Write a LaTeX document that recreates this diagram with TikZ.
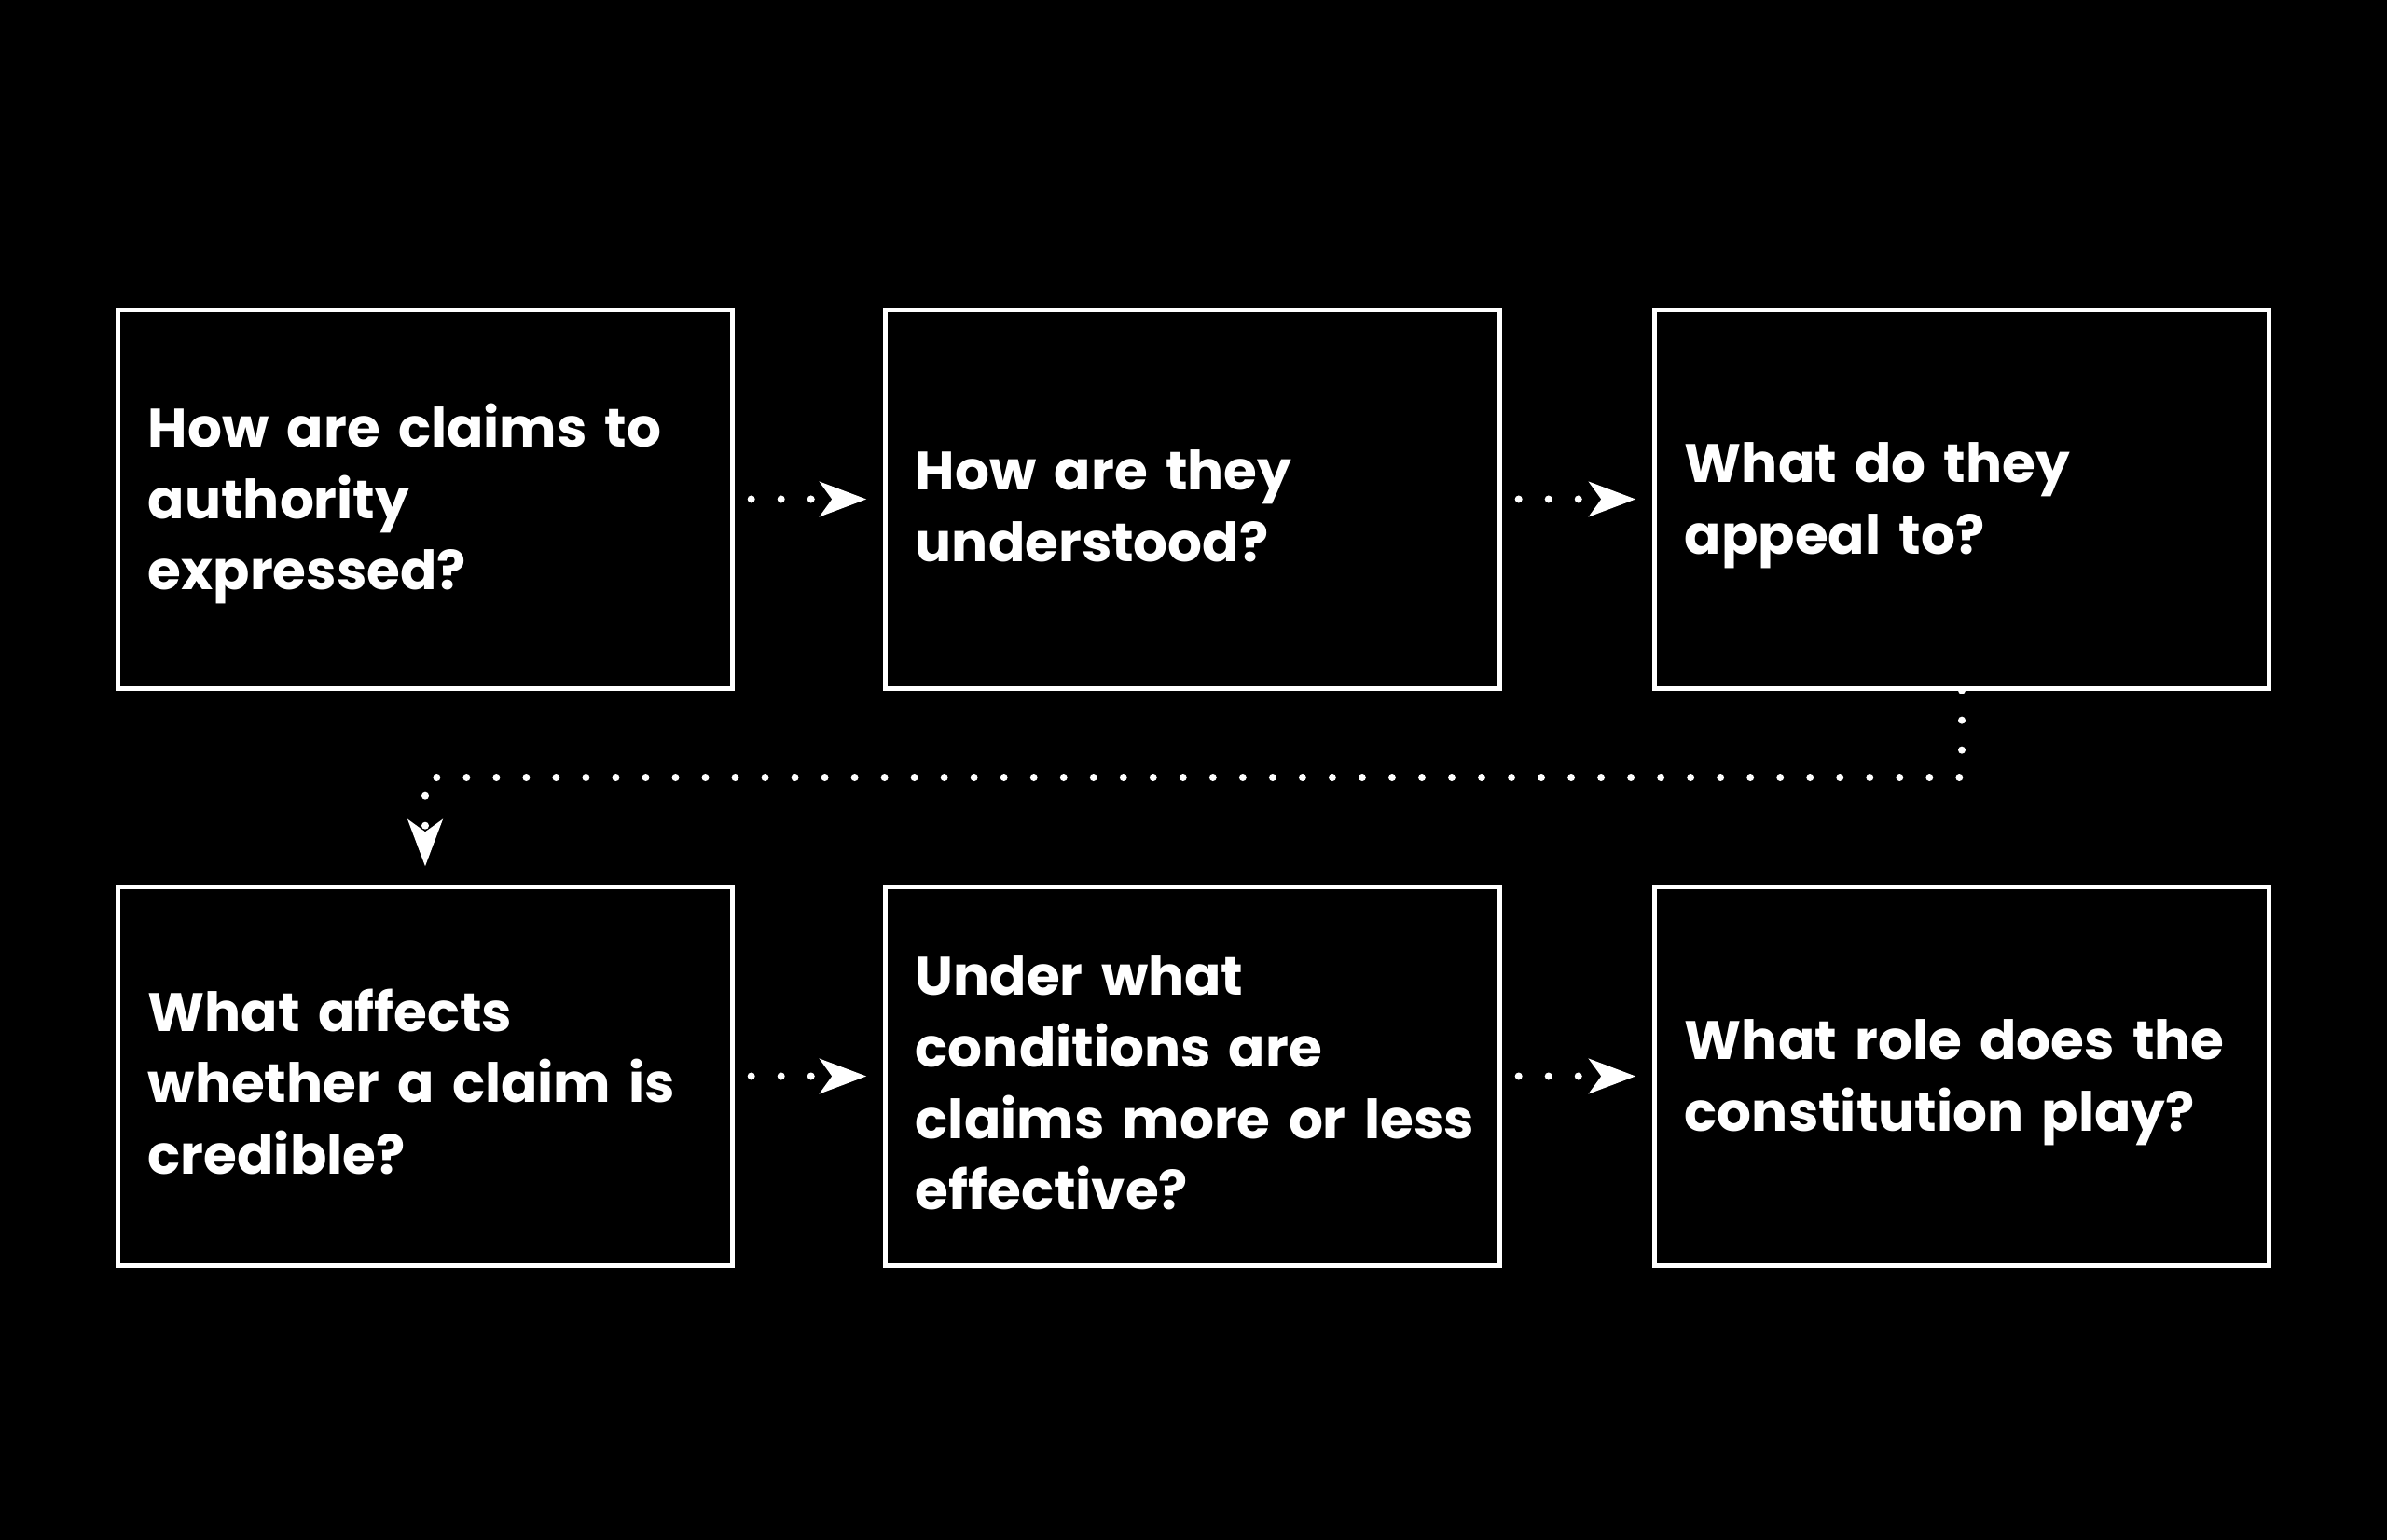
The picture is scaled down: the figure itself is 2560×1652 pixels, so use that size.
\documentclass[tikz,border=0pt]{standalone}
\usepackage{fontspec}
\setmainfont{Poppins}
\usetikzlibrary{arrows.meta}
\newcommand{\topstrut}{\rule{0pt}{\dimexpr\fontcharht\font`\l+4.55pt\relax}}
\tikzset{
  qbox/.style={draw=white, line width=0.05cm, fill=black, minimum width=6.58cm, minimum height=4.05cm,
    text width=5.94cm, align=left, inner sep=0pt, text=white,
    font=\bfseries\fontsize{16.5pt}{21.8pt}\selectfont,
    execute at begin node={\topstrut}},
  dotline/.style={white, line width=0.08cm, line cap=round, dash pattern=on 0pt off 0.32cm},
  tipped/.style={-{Stealth[length=0.5cm, width=0.37cm, inset=0.13cm]}}
}
\begin{document}
\begin{tikzpicture}[x=0.01cm, y=-0.01cm]
\fill[black] (0,0) rectangle (2560,1652);
\useasboundingbox (0,0) rectangle (2560,1652);
\node[qbox] (b1) at (456,535.5) {How are claims to\\authority\\expressed?};
\node[qbox] (b2) at (1279,535.5) {How are they\\understood?};
\node[qbox] (b3) at (2104,535.5) {What do they\\appeal to?};
\node[qbox] (b4) at (456,1154.5) {What affects\\whether a claim is\\credible?};
\node[qbox] (b5) at (1279,1154.5) {Under what\\conditions are\\\mbox{claims more or less}\\effective?};
\node[qbox] (b6) at (2104,1154.5) {What role does the\\constitution play?};
\coordinate (c1) at (2104,834);
\coordinate (c2) at (456,834);
\draw[dotline, tipped, shorten <=0.18cm, shorten >=0.18cm] (b1.east) -- (b2.west);
\draw[dotline, tipped, shorten <=0.18cm, shorten >=0.18cm] (b2.east) -- (b3.west);
\draw[dotline, tipped, shorten <=0.18cm, shorten >=0.18cm] (b4.east) -- (b5.west);
\draw[dotline, tipped, shorten <=0.18cm, shorten >=0.18cm] (b5.east) -- (b6.west);
\draw[dotline, tipped, shorten >=0.2cm] (b3.south) -- (c1) -- (c2) -- (b4.north);
\end{tikzpicture}
\end{document}
